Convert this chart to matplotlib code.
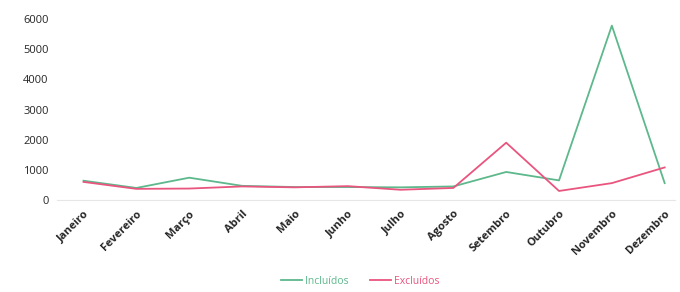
import numpy as np
import matplotlib.pyplot as plt

plt.rcParams['font.family'] = ['Open Sans', 'DejaVu Sans']

meses = ["Janeiro", "Fevereiro", "Março", "Abril", "Maio", "Junho",
         "Julho", "Agosto", "Setembro", "Outubro", "Novembro", "Dezembro"]
incluidos = [640, 400, 740, 470, 430, 430, 420, 450, 930, 650, 5780, 560]
excluidos = [600, 370, 380, 450, 420, 460, 340, 400, 1900, 300, 560, 1080]

verde = "#5db88c"
rosa = "#e9557f"

fig = plt.figure(figsize=(6.8, 2.92), dpi=100)
ax = fig.add_axes([0.084, 0.315, 0.909, 0.62])

x = np.arange(len(meses))
ax.plot(x, incluidos, color=verde, lw=1.3, label="Incluídos")
ax.plot(x, excluidos, color=rosa, lw=1.3, label="Excluídos")

ax.set_xlim(-0.5, 11.2)
ax.set_ylim(0, 6000)
ax.set_yticks(range(0, 6001, 1000))
ax.set_xticks(x)
ax.set_xticklabels(meses, rotation=45, ha="right", rotation_mode="anchor",
                   fontsize=8, fontweight="bold", color="#262626")
for t in ax.get_yticklabels():
    t.set_fontsize(8)
    t.set_color("#262626")

for s in ["top", "right", "left"]:
    ax.spines[s].set_visible(False)
ax.spines["bottom"].set_color("#e6e6e6")
ax.tick_params(length=0, pad=6)

leg = fig.legend(loc="lower center", bbox_to_anchor=(0.53, -0.015), ncol=2,
                 frameon=False, fontsize=7.5, handlelength=2.0, columnspacing=2.0,
                 handletextpad=0.3)
leg.get_texts()[0].set_color(verde)
leg.get_texts()[1].set_color(rosa)

fig.savefig("out.png", dpi=100)
